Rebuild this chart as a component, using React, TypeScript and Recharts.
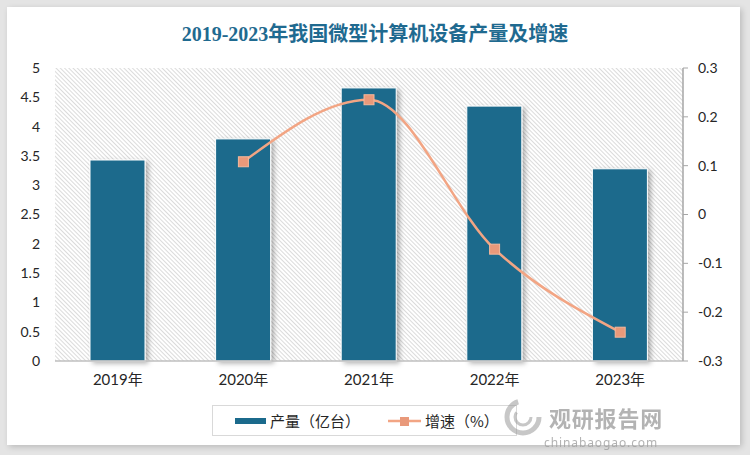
import { ComposedChart, Bar, Line, XAxis, YAxis, CartesianGrid } from "recharts";

const years = ["2019年", "2020年", "2021年", "2022年", "2023年"];
const output = [3.43, 3.79, 4.66, 4.35, 3.28];
const growth: (number | null)[] = [null, 0.108, 0.235, -0.071, -0.241];
const leftTicks = [0, 0.5, 1, 1.5, 2, 2.5, 3, 3.5, 4, 4.5, 5];
const rightTicks = [-0.3, -0.2, -0.1, 0, 0.1, 0.2, 0.3];

const data = years.map((year, i) => ({ year, output: output[i], growth: growth[i] }));

const BAR = "#1B6A8C";
const LINE = "#F2A584";
const DOT = "#E9997A";
const tickFont = "Lato, 'Noto Sans CJK SC', sans-serif";

const ShadowBar = (props: any) => {
  const { x, y, width, height } = props;
  return (
    <rect x={x} y={y} width={width} height={height} fill={BAR} stroke="#ffffff" strokeWidth={1} filter="url(#barShadow)" />
  );
};

const SquareDot = (props: any) => {
  const { cx, cy, value } = props;
  if (value == null || cx == null) return null;
  return <rect x={cx - 5} y={cy - 5} width={10} height={10} fill={DOT} stroke="#F6B89C" strokeWidth={1} />;
};

const App = () => {
  return (
    <div style={{ position: "fixed", left: 0, top: 0, width: 750, height: 455, background: "#e4e4e4", fontFamily: tickFont }}>
      <div
        style={{
          position: "absolute",
          left: 7,
          top: 7,
          width: 733,
          height: 438,
          background: "#ffffff",
          boxShadow: "2px 2px 6px rgba(0,0,0,0.18)",
        }}
      />
      <div
        style={{
          position: "absolute",
          left: 0,
          top: 18,
          width: 750,
          textAlign: "center",
          fontFamily: "'Liberation Serif', 'Noto Sans CJK SC', serif",
          fontWeight: 700,
          fontSize: 20,
          color: "#1F6A90",
        }}
      >
        2019-2023年我国微型计算机设备产量及增速
      </div>
      <div style={{ position: "absolute", left: 0, top: 0 }}>
        <ComposedChart width={750} height={455} data={data} margin={{ top: 68, right: 0, left: 0, bottom: 64 }}>
          <defs>
            <pattern id="hatch" width="3" height="3" patternUnits="userSpaceOnUse" patternTransform="rotate(-45)">
              <rect width="3" height="3" fill="#ffffff" />
              <line x1="0" y1="0" x2="0" y2="3" stroke="#cfcfcf" strokeWidth="1.5" />
            </pattern>
            <filter id="barShadow" x="-20%" y="-20%" width="150%" height="150%">
              <feDropShadow dx="3" dy="2" stdDeviation="2.5" floodColor="#000000" floodOpacity="0.3" />
            </filter>
          </defs>
          <CartesianGrid horizontal={false} vertical={false} fill="url(#hatch)" />
          <XAxis
            dataKey="year"
            axisLine={{ stroke: "#bfbfbf", strokeWidth: 1.5 }}
            tickLine={false}
            tickMargin={7}
            height={30}
            tick={{ fontSize: 15, fill: "#262626", fontFamily: tickFont }}
          />
          <YAxis
            yAxisId="left"
            width={55}
            domain={[0, 5]}
            ticks={leftTicks}
            interval={0}
            axisLine={false}
            tickLine={false}
            tickMargin={9}
            tick={{ fontSize: 14, fill: "#262626", fontFamily: tickFont }}
          />
          <YAxis
            yAxisId="right"
            orientation="right"
            width={67}
            domain={[-0.3, 0.3]}
            ticks={rightTicks}
            interval={0}
            axisLine={{ stroke: "#a6a6a6", strokeWidth: 1.5 }}
            tickLine={{ stroke: "#a6a6a6" }}
            tickSize={5}
            tickMargin={10}
            tick={{ fontSize: 14, fill: "#262626", fontFamily: tickFont, textAnchor: "start" }}
          />
          <Bar yAxisId="left" dataKey="output" barSize={55} shape={<ShadowBar />} isAnimationActive={false} />
          <Line
            yAxisId="right"
            dataKey="growth"
            type="monotone"
            stroke={LINE}
            strokeWidth={2.5}
            dot={<SquareDot />}
            activeDot={false}
            isAnimationActive={false}
          />
        </ComposedChart>
      </div>
      <div
        style={{
          position: "absolute",
          left: 212,
          top: 405,
          width: 305,
          height: 31,
          border: "1px solid #d9d9d9",
          boxSizing: "border-box",
          fontSize: 15,
          color: "#262626",
          fontFamily: "'Noto Sans CJK SC', sans-serif",
        }}
      >
        <svg width={36} height={10} style={{ position: "absolute", left: 22, top: 10 }}>
          <rect x={0} y={2} width={31} height={6} fill={BAR} />
        </svg>
        <span style={{ position: "absolute", left: 57, top: 4 }}>产量（亿台）</span>
        <svg width={36} height={12} style={{ position: "absolute", left: 175, top: 9 }}>
          <line x1={0} y1={6} x2={33} y2={6} stroke={LINE} strokeWidth={2.5} />
          <rect x={12} y={2} width={9} height={9} fill={DOT} />
        </svg>
        <span style={{ position: "absolute", left: 212, top: 4 }}>增速（%）</span>
      </div>
      <div style={{ position: "absolute", left: 500, top: 394, opacity: 0.55 }}>
        <svg width={46} height={46}>
          <circle cx={23} cy={23} r={16} fill="none" stroke="#9a9a9a" strokeWidth={5} strokeDasharray="70 30" />
          <circle cx={23} cy={23} r={8} fill="none" stroke="#9a9a9a" strokeWidth={3} strokeDasharray="30 20" />
        </svg>
      </div>
      <div
        style={{
          position: "absolute",
          left: 549,
          top: 406,
          fontSize: 22,
          lineHeight: "22px",
          fontWeight: 700,
          color: "#9a9a9a",
          opacity: 0.75,
          fontFamily: "'Noto Sans CJK SC', sans-serif",
          letterSpacing: 0.8,
        }}
      >
        观研报告网
      </div>
      <div
        style={{
          position: "absolute",
          left: 544,
          top: 437,
          fontSize: 12,
          lineHeight: "12px",
          color: "#a0a0a0",
          opacity: 0.8,
          fontFamily: "'Noto Sans', sans-serif",
          letterSpacing: 0.9,
        }}
      >
        chinabaogao.com
      </div>
    </div>
  );
};

export default App;
